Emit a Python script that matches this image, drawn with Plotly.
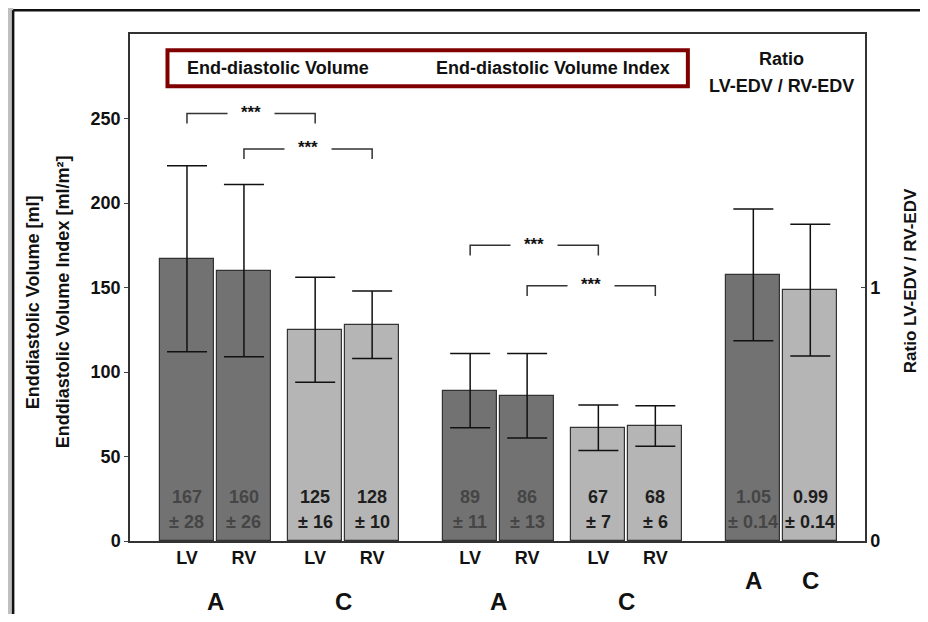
import plotly.graph_objects as go

# end-diastolic volume (ml) and index (ml/m2): A and C, LV / RV
sides = ["LV", "RV", "LV", "RV", "LV", "RV", "LV", "RV"]
groups = ["A", "A", "C", "C", "A", "A", "C", "C"]
volume = [167, 160, 125, 128, 89, 86, 67, 68]
volume_sd = [28, 26, 16, 10, 11, 13, 7, 6]
volume_err = [55, 51, 31, 20, 22, 25, 13.5, 12]

# ratio LV-EDV / RV-EDV
ratio_groups = ["A", "C"]
ratio = [1.05, 0.99]
ratio_sd = [0.14, 0.14]
ratio_err = [0.26, 0.26]

# significance brackets (bar index pairs, height on left axis)
sig_pairs = [(0, 2), (1, 3), (4, 6), (5, 7)]
sig_height = [253, 232, 175, 151]
sig_label = "***"

colors = {"A": "#727272", "C": "#b5b5b5"}
text_colors = {"A": "#454545", "C": "#1e1e1e"}
FONT = "Liberation Sans, Arial, sans-serif"


def bold(size, color="#111"):
    return dict(family=FONT, size=size, color=color, weight="bold")


# x layout: bars in pairs, wider gap between A/C and between sections
pos = []
x = 1.0
for i in range(len(volume)):
    pos.append(x)
    if i % 2 == 0:
        x += 1.0
    elif i % 4 == 1:
        x += 1.25
    else:
        x += 1.72
ratio_pos = [x, x + 1.0]

fig = go.Figure()

fig.add_trace(go.Bar(
    x=pos, y=volume, width=0.95,
    marker=dict(color=[colors[g] for g in groups], line=dict(color="#333333", width=1.2)),
    error_y=dict(type="data", array=volume_err, color="#111111", thickness=1.5, width=20),
    showlegend=False,
))
fig.add_trace(go.Bar(
    x=ratio_pos, y=ratio, width=0.95, yaxis="y2",
    marker=dict(color=[colors[g] for g in ratio_groups], line=dict(color="#333333", width=1.2)),
    error_y=dict(type="data", array=ratio_err, color="#111111", thickness=1.5, width=20),
    showlegend=False,
))

ann = []
# values inside the bars
for p, v, sd, g in zip(pos, volume, volume_sd, groups):
    for txt, shift in [(str(v), 44), ("± %d" % sd, 19)]:
        ann.append(dict(x=p, y=0, xref="x", yref="y", text=txt, yshift=shift, font=bold(18, text_colors[g])))
for p, v, sd, g in zip(ratio_pos, ratio, ratio_sd, ratio_groups):
    for txt, shift in [("%.2f" % v, 44), ("± %.2f" % sd, 19)]:
        ann.append(dict(x=p, y=0, xref="x", yref="y2", text=txt, yshift=shift, font=bold(18, text_colors[g])))

# group letters below the LV/RV labels
for k in range(0, len(pos), 2):
    ann.append(dict(x=(pos[k] + pos[k + 1]) / 2, y=-0.12, xref="x", yref="paper", text=groups[k],
                    font=bold(24)))
for p, g in zip(ratio_pos, ratio_groups):
    ann.append(dict(x=p, y=-0.077, xref="x", yref="paper", text=g, font=bold(24)))

border = dict(color="#111111", width=2.5)
shapes = [
    # grey strip left of the white page panel
    dict(type="rect", xref="paper", yref="paper", x0=-0.5, x1=-0.159, y0=-0.5, y1=1.5,
         fillcolor="#bfbfbf", line=dict(width=0), layer="below"),
    dict(type="line", xref="paper", yref="paper", x0=-0.159, x1=-0.159, y0=-0.3, y1=1.047, line=border),
    dict(type="line", xref="paper", yref="paper", x0=-0.159, x1=1.3, y0=1.047, y1=1.047, line=border),
    # header box
    dict(type="rect", xref="paper", yref="paper", x0=0.051, x1=0.759, y0=0.897, y1=0.968,
         line=dict(color="#800000", width=4)),
]

# significance brackets
for (a, b), h in zip(sig_pairs, sig_height):
    x0, x1 = pos[a], pos[b]
    shapes.append(dict(type="path", xref="x", yref="y",
                       path="M %f,%f L %f,%f L %f,%f L %f,%f" % (x0, h - 6, x0, h, x1, h, x1, h - 6),
                       line=dict(color="#333333", width=1.5)))
    ann.append(dict(x=(x0 + x1) / 2, y=h, xref="x", yref="y", text=sig_label, yshift=1,
                    width=44, bgcolor="white", font=bold(17)))

# header texts
for txt, xp, yp in [("End-diastolic Volume", 0.201, 0.933),
                    ("End-diastolic Volume Index", 0.576, 0.933),
                    ("Ratio", 0.887, 0.951),
                    ("LV-EDV / RV-EDV", 0.887, 0.897)]:
    ann.append(dict(x=xp, y=yp, xref="paper", yref="paper", text=txt, font=bold(18)))

# axis titles
for txt, xp in [("Enddiastolic Volume [ml]", -0.132), ("Enddiastolic Volume Index [ml/m²]", -0.091)]:
    ann.append(dict(x=xp, y=0.471, xref="paper", yref="paper", text=txt, textangle=-90, font=bold(18)))
ann.append(dict(x=1.063, y=0.513, xref="paper", yref="paper", text="Ratio LV-EDV / RV-EDV",
                textangle=-90, font=bold(17)))

for a in ann:
    a.update(showarrow=False, xanchor="center", yanchor="middle")

tick_font = bold(18)
fig.update_layout(
    # page body adds an 8px margin all round; keep the figure inside the window
    width=912, height=606,
    margin=dict(l=122, r=55, t=26, b=73),
    paper_bgcolor="white", plot_bgcolor="white",
    bargap=0,
    annotations=ann, shapes=shapes,
    xaxis=dict(range=[0, 12.9], tickvals=pos, ticktext=sides, ticks="", showgrid=False, zeroline=False,
               showline=True, mirror=True, linecolor="#333333", linewidth=1.5, tickfont=tick_font),
    yaxis=dict(range=[0, 300], tickvals=[0, 50, 100, 150, 200, 250], ticks="outside", ticklen=4,
               showgrid=False, zeroline=False, showline=True, linecolor="#333333", linewidth=1.5,
               tickfont=tick_font),
    yaxis2=dict(range=[0, 2], tickvals=[0, 1], overlaying="y", side="right", ticks="inside", ticklen=4,
                showgrid=False, zeroline=False, showline=True, linecolor="#333333", linewidth=1.5,
                tickfont=tick_font),
)

fig.write_html("out.html")
